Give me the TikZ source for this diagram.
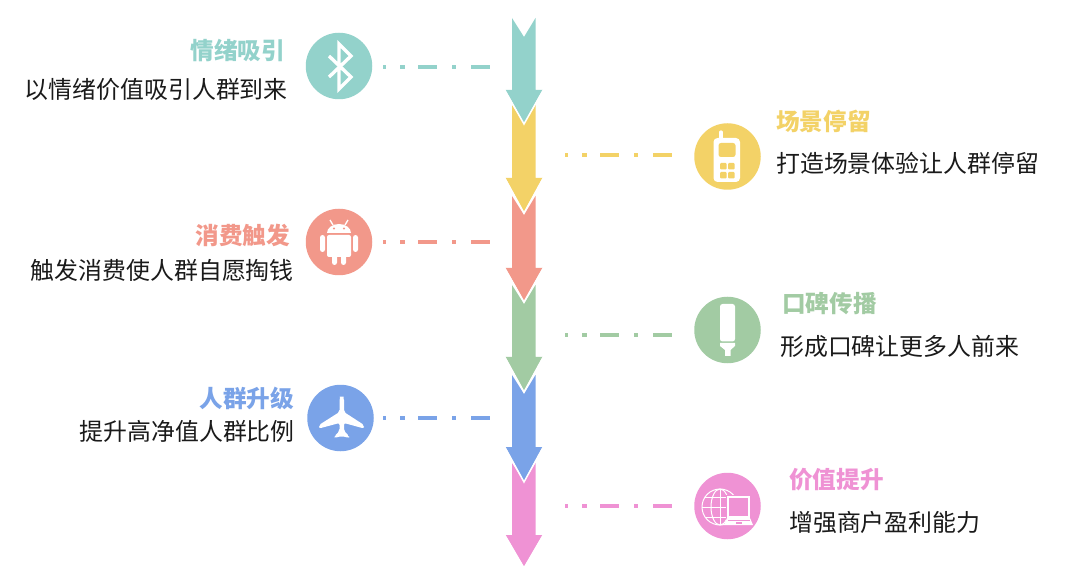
\documentclass[tikz,border=0pt]{standalone}
\usepackage{fontspec}
\setmainfont{Noto Sans CJK SC}
\definecolor{cteal}{HTML}{93D2CB}
\definecolor{cyel}{HTML}{F3D267}
\definecolor{cred}{HTML}{F2988A}
\definecolor{cgrn}{HTML}{A2CBA3}
\definecolor{cblu}{HTML}{7AA3E8}
\definecolor{cpnk}{HTML}{EF92D4}
\definecolor{ctxt}{HTML}{1A1A1A}
\tikzset{
  x=1pt,y=-1pt,
  iconc/.style={circle,minimum size=66.5pt,inner sep=0pt,fill=#1},
  ttl/.style={inner sep=0pt,font=\fontsize{23.6}{26}\selectfont\bfseries,text=#1},
  bodyl/.style={inner sep=0pt,font=\fontsize{23.9}{26}\selectfont,text=ctxt},
  link/.style={draw=#1,line width=4pt,dash pattern=on 3pt off 14pt on 5pt off 13pt on 19pt off 15pt on 4pt off 15pt on 19pt},
  ic/.style={fill=white,draw=none},
  icl/.style={draw=white,fill=none}
}
% top y, head y, tip y, colour: the arrow, then a white edge along its tip
\newcommand{\flowarrow}[4]{%
  \fill[#4] (512,#1) -- (524,#1+19) -- (535.5,#1) -- (535.5,#2) -- (542.5,#2) -- (524,#3) -- (505.5,#2) -- (512,#2) -- cycle;
  \draw[white,line width=1.5pt] (505,#2+.5) -- (524,#3+1) -- (543,#2+.5);}
\begin{document}
\begin{tikzpicture}
\useasboundingbox (0,0) rectangle (1080,580);
\fill[white] (0,0) rectangle (1080,580);
% arrows, lowest first so that each tip lies over the next arrow
\flowarrow{463}{535}{567}{cpnk}
\flowarrow{375}{447}{481}{cblu}
\flowarrow{285}{357}{391}{cgrn}
\flowarrow{196}{268}{301}{cred}
\flowarrow{105}{178}{212}{cyel}
\flowarrow{18}{90}{123}{cteal}
% circles
\node[iconc=cteal] (c1) at (339,66) {};
\node[iconc=cyel] (c2) at (727.5,156.5) {};
\node[iconc=cred] (c3) at (339,242) {};
\node[iconc=cgrn] (c4) at (727.5,330) {};
\node[iconc=cblu] (c5) at (340.5,418) {};
\node[iconc=cpnk] (c6) at (727.5,506) {};
% ends of connectors
\coordinate (a1) at (490,67);
\coordinate (a2) at (565,155);
\coordinate (a3) at (490,242);
\coordinate (a4) at (565,335);
\coordinate (a5) at (490,418);
\coordinate (a6) at (565,506);
\coordinate (b1) at (383,67);
\coordinate (b2) at (672,155);
\coordinate (b3) at (383,242);
\coordinate (b4) at (672,335);
\coordinate (b5) at (383,418);
\coordinate (b6) at (672,506);
\draw[link=cteal] (b1) -- (a1);
\draw[link=cyel] (a2) -- (b2);
\draw[link=cred] (b3) -- (a3);
\draw[link=cgrn] (a4) -- (b4);
\draw[link=cblu] (b5) -- (a5);
\draw[link=cpnk] (a6) -- (b6);
% bluetooth
\draw[icl,line width=3.4pt,line join=miter] (329,56) -- (351,77) -- (339,89) -- (339,44) -- (351,56) -- (329,77);
% phone
\draw[icl,line width=3.2pt,line cap=round] (721,132) -- (721,140);
\fill[ic,rounded corners=4pt] (713.5,138) rectangle (740,182);
\fill[cyel,rounded corners=2.5pt] (718.5,143) rectangle (735.5,157);
\foreach \px/\py in {720/163,728/163,720/172,728/172}
  \fill[cyel,rounded corners=1pt] (\px,\py) rectangle (\px+6.5,\py+6.5);
% android
\fill[ic] (327,233) arc[start angle=180,end angle=0,x radius=12,y radius=-9] -- cycle;
\draw[icl,line width=1.3pt] (330,220) -- (333,225);
\draw[icl,line width=1.3pt] (348,220) -- (345,225);
\fill[cred] (334,228.5) circle (1.2pt) (344,228.5) circle (1.2pt);
\fill[ic,rounded corners=2pt] (327,235) rectangle (351,257);
\fill[ic,rounded corners=2.5pt] (320,235) rectangle (325,252);
\fill[ic,rounded corners=2.5pt] (353,235) rectangle (358,252);
\fill[ic,rounded corners=2.5pt] (332,250) rectangle (337,265);
\fill[ic,rounded corners=2.5pt] (341,250) rectangle (346,265);
% highlighter
\fill[ic,rounded corners=2.5pt] (720,304) rectangle (735,341.5);
\fill[ic] (720,343) -- (735,343) -- (735,346) -- (730.5,350) -- (730.5,356) -- (725,356) -- (725,350) -- (720,346) -- cycle;
% plane
\fill[ic,rounded corners=2pt] (339.5,412) -- (339.5,399) to[out=-90,in=180] (341.7,396.5) to[out=0,in=-90] (344,399) -- (344,412)
  -- (364,425) -- (364,428.5) -- (344,423) -- (344,431) -- (349,436) -- (349,438) -- (341.7,436) -- (334.5,438) -- (334.5,436) -- (339.5,431) -- (339.5,423) -- (319,428.5) -- (319,425) -- cycle;
% globe and laptop
\begin{scope}[icl,line width=1pt]
  \draw (720,507) circle (18);
  \draw (720,507) ellipse[x radius=9,y radius=18];
  \draw (720,489) -- (720,525);
  \draw (702,507) -- (738,507);
  \draw (705,497) -- (735,497);
  \draw (705,517) -- (735,517);
\end{scope}
\fill[cpnk] (726,495) rectangle (751,526);
\draw[icl,line width=1.2pt] (728,497) rectangle (749,517);
\fill[ic] (727,518) -- (750,518) -- (753,525) -- (724,525) -- cycle;
\fill[cpnk] (736,522) rectangle (742,524);
\draw[cpnk,line width=.5pt] (728,520) -- (750,520);
% labels
\node[ttl=cteal,anchor=east] (t1) at (285,51) {情绪吸引};
\node[bodyl,anchor=east] (d1) at (288,89) {以情绪价值吸引人群到来};
\node[ttl=cyel,anchor=west] (t2) at (776,121) {场景停留};
\node[bodyl,anchor=west] (d2) at (776,163) {打造场景体验让人群停留};
\node[ttl=cred,anchor=east] (t3) at (290,235) {消费触发};
\node[bodyl,anchor=east] (d3) at (294,270) {触发消费使人群自愿掏钱};
\node[ttl=cgrn,anchor=west] (t4) at (782,304) {口碑传播};
\node[bodyl,anchor=west] (d4) at (780,346) {形成口碑让更多人前来};
\node[ttl=cblu,anchor=east] (t5) at (294,398) {人群升级};
\node[bodyl,anchor=east] (d5) at (295,431) {提升高净值人群比例};
\node[ttl=cpnk,anchor=west] (t6) at (789,480) {价值提升};
\node[bodyl,anchor=west] (d6) at (789,522) {增强商户盈利能力};
\end{tikzpicture}
\end{document}
